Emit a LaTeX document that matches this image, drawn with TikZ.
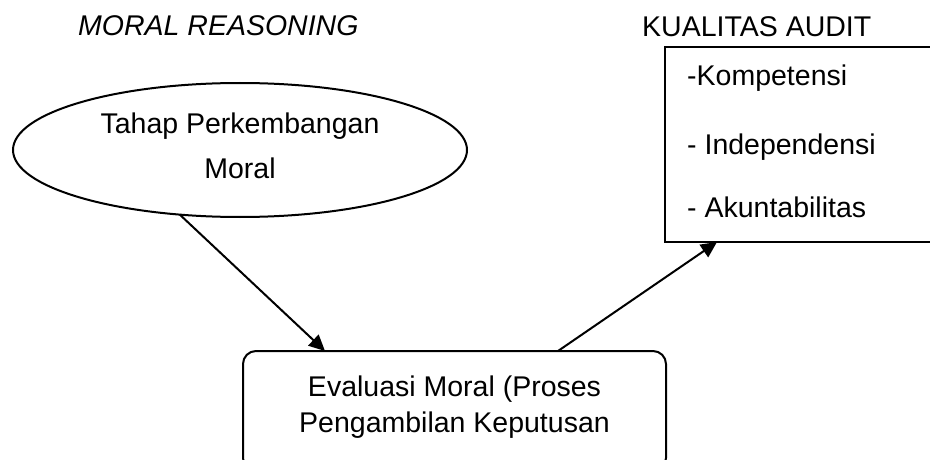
\documentclass[tikz,border=0pt]{standalone}
\usepackage{fontspec}
\setmainfont{Liberation Sans}
\usetikzlibrary{shapes.geometric,arrows.meta}
\tikzset{
  lbl/.style={anchor=base, inner sep=0pt, font=\fontsize{28.5}{34}\selectfont},
  lblw/.style={lbl, anchor=base west},
  shapeline/.style={draw=black, line width=2pt, inner sep=0pt, outer sep=0pt},
  arr/.style={line width=2pt, -{Triangle[length=16pt,width=15pt]}}
}
\begin{document}
\begin{tikzpicture}[x=1pt,y=-1pt]
\useasboundingbox (0,0) rectangle (930,460);
\clip (0,0) rectangle (930,460);
% titles
\node[lblw, font=\fontsize{28.5}{34}\selectfont\itshape] (t1) at (78,36) {MORAL REASONING};
\node[lblw] (t2) at (642,37) {KUALITAS AUDIT};
% ellipse
\node[shapeline, ellipse, minimum width=454pt, minimum height=134pt] (e) at (240,150) {};
\node[lbl] (e1) at (240,133) {Tahap Perkembangan};
\node[lbl] (e2) at (240,178) {Moral};
% quality box
\node[shapeline, rectangle, anchor=north west, minimum width=280pt, minimum height=195pt] (k) at (665,47) {};
\node[lblw] (k1) at (687,85) {-Kompetensi};
\node[lblw] (k2) at (687,154) {- Independensi};
\node[lblw] (k3) at (687,217) {- Akuntabilitas};
% evaluation box
\node[shapeline, rectangle, rounded corners=13pt, anchor=north west, minimum width=423pt, minimum height=120pt] (b) at (243,351) {};
\node[lbl] (b1) at (454.5,396) {Evaluasi Moral (Proses};
\node[lbl] (b2) at (454.5,432) {Pengambilan Keputusan};
% arrows
\draw[arr] (e.227) -- ([xshift=-129.5pt]b.north);
\draw[arr] ([xshift=103.5pt]b.north) -- ([xshift=52pt]k.south west);
\end{tikzpicture}
\end{document}
